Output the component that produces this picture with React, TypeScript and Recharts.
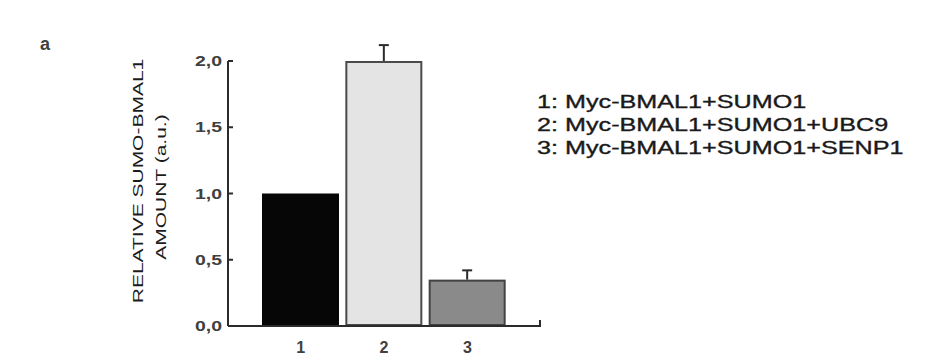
import React from 'react';
import { BarChart, Bar, XAxis, YAxis } from 'recharts';

// relative SUMO-BMAL1 amount per condition
const categories = ['1', '2', '3'];
const amounts = [1.0, 2.0, 0.35];
const errors = [0, 0.12, 0.07];
const yTicks = [0, 0.5, 1.0, 1.5, 2.0];
const legendLabels = ['1: Myc-BMAL1+SUMO1', '2: Myc-BMAL1+SUMO1+UBC9', '3: Myc-BMAL1+SUMO1+SENP1'];
const yLabelLines = ['RELATIVE SUMO-BMAL1', 'AMOUNT (a.u.)'];
const panelLabel = 'a';

const fills = ['#060606', '#e4e4e4', '#8a8a8a'];
const strokes = ['#060606', '#4a4a4a', '#424242'];
const FONT = '"Liberation Sans", Arial, Helvetica, sans-serif';
const INK = '#2b2b2b';

const data = categories.map((c, i) => ({ name: c, value: amounts[i], err: errors[i] }));

// bar with an upper-only error whisker, scaled from the bar's own pixel height
const BarWithError = (props: any) => {
  const { x, y, width, height, payload } = props;
  const i = categories.indexOf(payload.name);
  const perUnit = payload.value ? height / payload.value : 0;
  const errTop = y - payload.err * perUnit;
  const cx = x + width / 2;
  const sw = i === 0 ? 0 : 2;
  return (
    <g>
      <rect
        x={x + sw / 2}
        y={y + sw / 2}
        width={width - sw}
        height={height - sw}
        fill={fills[i]}
        stroke={strokes[i]}
        strokeWidth={sw}
      />
      {payload.err > 0 && (
        <g stroke={INK} strokeWidth={2}>
          <line x1={cx} x2={cx} y1={y} y2={errTop} />
          <line x1={cx - 5} x2={cx + 5} y1={errTop} y2={errTop} />
        </g>
      )}
    </g>
  );
};

const YTick = (props: any) => {
  const { x, y, payload } = props;
  const label = Number(payload.value).toFixed(1).replace('.', ',');
  return (
    <g>
      <line x1={x + 6} x2={x + 11} y1={y} y2={y} stroke={INK} strokeWidth={2} />
      <text
        x={x}
        y={y}
        dy={5}
        textAnchor="end"
        fontFamily={FONT}
        fontSize={14}
        fontWeight="bold"
        fill="#404040"
        textLength={27}
        lengthAdjust="spacingAndGlyphs"
      >
        {label}
      </text>
    </g>
  );
};

const XTick = (props: any) => {
  const { x, y, payload } = props;
  return (
    <text x={x} y={y + 27} textAnchor="middle" fontFamily={FONT} fontSize={16} fontWeight="bold" fill="#404040">
      {payload.value}
    </text>
  );
};

export default function App() {
  return (
    <div style={{ position: 'absolute', left: 0, top: 0, width: 934, height: 358, background: '#fff' }}>
      <BarChart width={934} height={358} data={data} margin={{ top: 61, right: 394, bottom: 7, left: 168 }}>
        <XAxis
          dataKey="name"
          height={25}
          padding={{ left: 31, right: 31 }}
          tickLine={false}
          tickSize={0}
          tickMargin={0}
          tick={<XTick />}
          axisLine={{ stroke: INK, strokeWidth: 2 }}
        />
        <YAxis
          width={60}
          domain={[0, 2]}
          ticks={yTicks}
          interval={0}
          tickLine={false}
          tickSize={0}
          tickMargin={6}
          tick={<YTick />}
          axisLine={{ stroke: INK, strokeWidth: 2 }}
        />
        <Bar dataKey="value" barSize={77} shape={<BarWithError />} isAnimationActive={false} />
      </BarChart>
      <svg
        width={934}
        height={358}
        style={{ position: 'absolute', left: 0, top: 0, pointerEvents: 'none' }}
      >
        {/* upturned end of the x axis */}
        <line x1={540} x2={540} y1={327} y2={320} stroke={INK} strokeWidth={2} />
        <text x={40} y={50} fontFamily={FONT} fontSize={18} fontWeight="bold" fill="#404040">
          {panelLabel}
        </text>
        {yLabelLines.map((line, i) => (
          <g key={line} transform={`translate(${143 + i * 23}, ${181 + i * 6}) rotate(-90) scale(1.4, 1)`}>
            <text x={0} y={0} textAnchor="middle" fontFamily={FONT} fontSize={15} fill="#1c1c1c">
              {line}
            </text>
          </g>
        ))}
        {legendLabels.map((line, i) => (
          <g key={line} transform={`translate(537, ${108 + i * 23}) scale(1.4, 1)`}>
            <text x={0} y={0} fontFamily={FONT} fontSize={18} fill="#1a1a1a" stroke="#1a1a1a" strokeWidth={0.35}>
              {line}
            </text>
          </g>
        ))}
      </svg>
    </div>
  );
}
